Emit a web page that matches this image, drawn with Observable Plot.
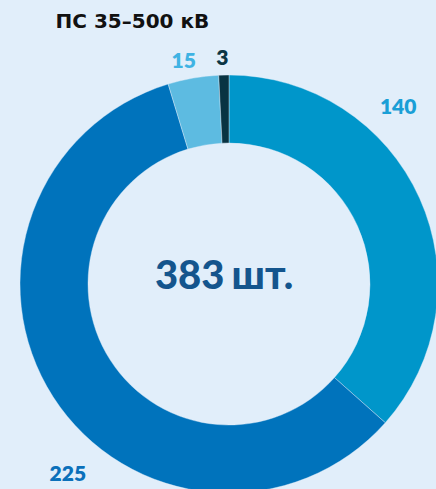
<!DOCTYPE html>
<html>
<head>
<meta charset="utf-8">
<script src="https://cdn.jsdelivr.net/npm/d3@7"></script>
<script src="https://cdn.jsdelivr.net/npm/@observablehq/plot@0.6"></script>
<style>
  html, body { margin: 0; padding: 0; background: #e1eefa; }
  #chart svg { display: block; }
</style>
</head>
<body>
<div id="chart"></div>
<script>
// ---- data ----
const title = "ПС 35–500 кВ";
const categories = ["a", "b", "c", "d"];
const values = [140, 225, 15, 3];
const totalLabel = "383";
const unitLabel = "шт.";

// ---- style / placement (not data) ----
const sliceColors = ["#0096ca", "#0073bc", "#5dbbe1", "#083342"];
const labelColors = ["#1a9fd6", "#0a70ba", "#3fb3e3", "#0c3644"];
// label placement in polar terms around the donut (degrees clockwise from top, radius px)
const labelAngle = [43.5, 220.5, -11.6, -1.8];
const labelRadius = [245, 249, 228, 226];
const bg = "#e1eefa";
const W = 436, H = 489;
const cx = 229, cy = 284, rOuter = 209, rInner = 141;

const slices = categories.map((c, i) => ({category: c, value: values[i]}));
const pie = d3.pie().value(d => d.value).sort(null)(slices);
const labels = slices.map((d, i) => {
  const a = labelAngle[i] * Math.PI / 180;
  return {text: String(d.value), x: labelRadius[i] * Math.sin(a), y: -labelRadius[i] * Math.cos(a), color: labelColors[i]};
});

const arcGen = d3.arc().innerRadius(rInner).outerRadius(rOuter);

function donutMark(index, scales) {
  const sx = scales && scales.x ? scales.x : (v => v + cx);
  const sy = scales && scales.y ? scales.y : (v => v + cy);
  const color = scales && scales.color ? scales.color : (c => sliceColors[categories.indexOf(c)]);
  const g = d3.create("svg:g").attr("transform", `translate(${sx(0)},${sy(0)})`);
  g.selectAll("path").data(pie).join("path")
    .attr("d", arcGen)
    .attr("fill", d => color(d.data.category))
    .attr("stroke", bg)
    .attr("stroke-width", 0.4);
  return g.node();
}

const plot = Plot.plot({
  width: W,
  height: H,
  margin: 0,
  style: {background: bg, overflow: "hidden"},
  x: {domain: [-cx, W - cx], range: [0, W], axis: null},
  y: {domain: [-cy, H - cy], range: [0, H], axis: null},
  color: {domain: categories, range: sliceColors},
  marks: [
    donutMark,
    Plot.text(labels, {
      x: "x", y: "y", text: "text", fill: d => d.color,
      fontSize: 21, fontWeight: 800, fontFamily: "Lato", letterSpacing: -1
    }),
    Plot.text([title], {
      frameAnchor: "top-left", dx: 55, dy: 13, text: d => d,
      fontSize: 20, fontWeight: 800, fontFamily: "DejaVu Sans", fill: "#111", textAnchor: "start", lineAnchor: "top", letterSpacing: 1.1
    }),
    Plot.text([totalLabel], {
      x: () => 0, y: () => 0, text: d => d, dx: -5, dy: -8, textAnchor: "end",
      fontSize: 40, fontWeight: 900, fontFamily: "Lato", fill: "#14558d", letterSpacing: -0.5
    }),
    Plot.text([unitLabel], {
      x: () => 0, y: () => 0, text: d => d, dx: 2, dy: -8, textAnchor: "start",
      fontSize: 40, fontWeight: 900, fontFamily: "Lato", fill: "#14558d", letterSpacing: 2.5
    })
  ]
});
document.getElementById("chart").appendChild(plot);
</script>
</body>
</html>
